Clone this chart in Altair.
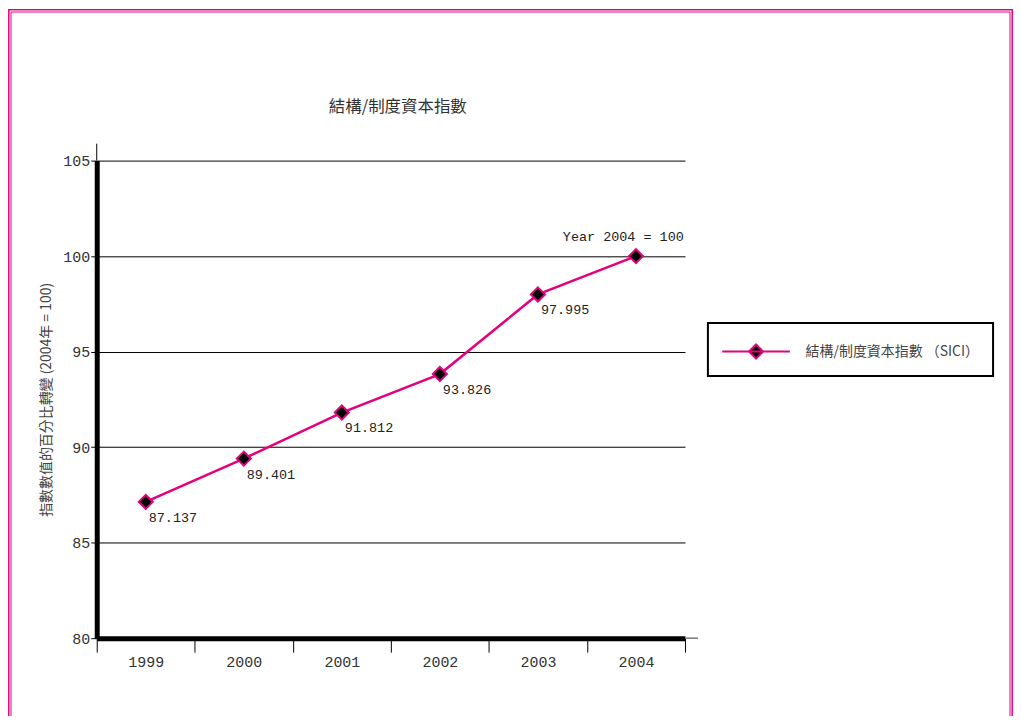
import altair as alt
import pandas as pd

years = ["1999", "2000", "2001", "2002", "2003", "2004"]
values = [87.137, 89.401, 91.812, 93.826, 97.995, 100.0]
value_labels = ["87.137", "89.401", "91.812", "93.826", "97.995", ""]
series_name = "結構/制度資本指數 （SICI）"
y_ticks = [80, 85, 90, 95, 100, 105]
chart_title = "結構/制度資本指數"
y_title = "指數數值的百分比轉變 (2004年 = 100)"
note_text = "Year 2004 = 100"
note_year = ["2004"]
note_level = [101]

PINK = "#e5007d"
CJK = "Noto Sans CJK TC"
MONO = "Liberation Mono"

W, H = 590, 479
PAD_L, PAD_T, PAD_R, PAD_B = 89, 152, 329, 77

df = pd.DataFrame({
    "year": years,
    "value": values,
    "label": value_labels,
    "series": [series_name] * len(years),
})
note_df = pd.DataFrame({"year": note_year, "value": note_level, "text": [note_text]})
one = pd.DataFrame({"k": [0]})

x_enc = alt.X(
    "year:N",
    sort=years,
    scale=alt.Scale(type="band", domain=years, paddingInner=0, paddingOuter=0),
    axis=alt.Axis(
        title=None, labelAngle=0, tickBand="extent",
        domainColor="black", domainWidth=5,
        tickColor="black", tickWidth=1, tickSize=14,
        labelFont=MONO, labelFontSize=15, labelColor="#333", labelPadding=2,
        grid=False,
    ),
)
y_enc = alt.Y(
    "value:Q",
    scale=alt.Scale(domain=[80, 105], nice=False, zero=False),
    axis=alt.Axis(
        values=y_ticks, title=y_title, grid=True, gridColor="black", gridWidth=1,
        domainColor="black", domainWidth=5,
        tickColor="black", tickWidth=1, tickSize=6,
        labelFont=MONO, labelFontSize=15, labelColor="#333", labelPadding=1,
        titleFont=CJK, titleFontSize=14, titleColor="#444", titleFontWeight="normal",
        titlePadding=9,
    ),
)

legend_path = "M-1,0H3.8M1.4,-0.5L1.9,0L1.4,0.5L0.9,0Z"

line = alt.Chart(df).mark_line(strokeWidth=2.5).encode(
    x=x_enc,
    y=y_enc,
    color=alt.Color(
        "series:N",
        scale=alt.Scale(range=[PINK]),
        legend=alt.Legend(
            title=None, orient="none", legendX=613, legendY=163,
            padding=13, fillColor="white", strokeColor="black",
            symbolType=legend_path, symbolSize=800,
            symbolFillColor="black", symbolStrokeColor=PINK, symbolStrokeWidth=2,
            symbolOpacity=1,
            labelFont=CJK, labelFontSize=14, labelColor="#444",
            labelOffset=54, labelLimit=400,
        ),
    ),
)

points = alt.Chart(df).mark_point(
    shape="diamond", filled=True, fill="black", stroke=PINK,
    strokeWidth=2, size=200, opacity=1,
).encode(x="year:N", y="value:Q")

labels = alt.Chart(df).mark_text(
    align="left", baseline="middle", dx=3, dy=16,
    font=MONO, fontSize=13.5, color="#222",
).encode(x="year:N", y="value:Q", text="label:N")

note = alt.Chart(note_df).mark_text(
    align="right", baseline="middle", dx=48,
    font=MONO, fontSize=13.5, color="#222",
).encode(x="year:N", y="value:Q", text="text:N")

title_mark = alt.Chart(one).mark_text(
    font=CJK, fontSize=16.5, color="#333", baseline="middle", align="center",
).encode(x=alt.value(W / 2 + 7), y=alt.value(-54), text=alt.value(chart_title))

y_ext = alt.Chart(one).mark_rule(color="black", strokeWidth=1).encode(
    x=alt.value(0), y=alt.value(-17), y2=alt.value(0)
)
x_ext = alt.Chart(one).mark_rule(color="#777", strokeWidth=1.5).encode(
    x=alt.value(W), x2=alt.value(W + 13), y=alt.value(H), y2=alt.value(H)
)

border_outer = alt.Chart(one).mark_rect(fillOpacity=0, stroke=PINK, strokeWidth=1.5).encode(
    x=alt.value(-PAD_L + 0.8), x2=alt.value(W + PAD_R - 0.8),
    y=alt.value(-PAD_T + 0.8), y2=alt.value(H + PAD_B + 40),
)
border_inner = alt.Chart(one).mark_rect(fillOpacity=0, stroke=PINK, strokeWidth=1).encode(
    x=alt.value(-PAD_L + 3), x2=alt.value(W + PAD_R - 3),
    y=alt.value(-PAD_T + 3), y2=alt.value(H + PAD_B + 40),
)

chart = alt.layer(
    border_outer, border_inner, line, points, labels, note, title_mark, y_ext, x_ext
).properties(
    width=W, height=H,
    autosize=alt.AutoSizeParams(type="none"),
    padding={"left": PAD_L, "top": PAD_T, "right": PAD_R, "bottom": PAD_B},
    background="white",
).configure_view(stroke=None).configure_legend(strokeWidth=2)

chart.save("out.html", embed_options={"renderer": "svg", "actions": False})
